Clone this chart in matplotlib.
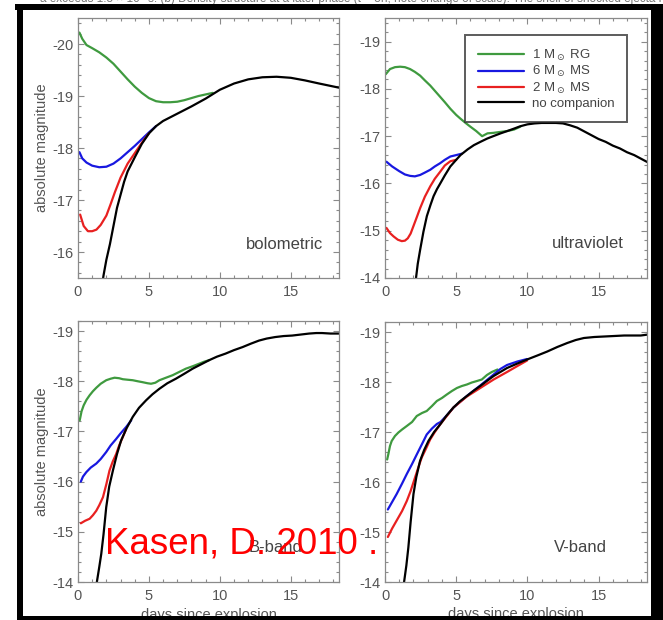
import matplotlib
matplotlib.use("Agg")
import matplotlib.pyplot as plt
from matplotlib.patches import Rectangle
from matplotlib.ticker import MultipleLocator

# ---------------- data ----------------
# bolometric
bol_rg_day = [0.1, 0.3, 0.6, 1.0, 1.5, 2.0, 2.5, 3.0, 3.5, 4.0, 4.5, 5.0, 5.5, 6.0, 6.5, 7.0, 7.5, 8.0, 8.5, 9.0, 9.5]
bol_rg_mag = [-20.22, -20.1, -19.98, -19.92, -19.84, -19.74, -19.62, -19.47, -19.32, -19.18, -19.06, -18.96, -18.9, -18.88, -18.88, -18.89, -18.92, -18.96, -19.0, -19.03, -19.06]
bol_ms6_day = [0.1, 0.3, 0.6, 1.0, 1.5, 2.0, 2.5, 3.0, 3.5, 4.0, 4.5, 5.0, 5.5]
bol_ms6_mag = [-17.92, -17.8, -17.72, -17.66, -17.63, -17.64, -17.7, -17.8, -17.92, -18.04, -18.17, -18.3, -18.42]
bol_ms2_day = [0.15, 0.4, 0.7, 1.0, 1.3, 1.6, 2.0, 2.3, 2.6, 3.0, 3.5, 4.0, 4.5, 5.0]
bol_ms2_mag = [-16.72, -16.5, -16.4, -16.4, -16.43, -16.52, -16.7, -16.92, -17.15, -17.43, -17.7, -17.9, -18.1, -18.28]
bol_nc_day = [1.6, 1.8, 2.0, 2.25, 2.5, 2.75, 3.0, 3.25, 3.5, 4.0, 4.5, 5.0, 5.5, 6.0, 7.0, 8.0, 9.0, 10.0, 11.0, 12.0, 13.0, 14.0, 15.0, 16.0, 17.0, 18.4]
bol_nc_mag = [-15.2, -15.55, -15.85, -16.15, -16.5, -16.85, -17.1, -17.35, -17.55, -17.82, -18.08, -18.28, -18.42, -18.52, -18.66, -18.8, -18.95, -19.12, -19.24, -19.32, -19.36, -19.37, -19.35, -19.3, -19.24, -19.16]

# ultraviolet
uv_rg_day = [0.05, 0.35, 0.7, 1.06, 1.4, 1.76, 2.1, 2.47, 2.8, 3.18, 3.5, 3.88, 4.2, 4.59, 5.0, 5.3, 5.7, 6.0, 6.4, 6.82, 7.2, 7.6, 8.1, 8.6, 9.06, 9.5]
uv_rg_mag = [-18.31, -18.42, -18.46, -18.47, -18.46, -18.42, -18.36, -18.28, -18.18, -18.07, -17.96, -17.83, -17.72, -17.58, -17.45, -17.37, -17.27, -17.2, -17.11, -17.0, -17.06, -17.07, -17.09, -17.11, -17.14, -17.2]
uv_ms6_day = [0.1, 0.5, 1.0, 1.4, 1.76, 2.1, 2.47, 2.8, 3.18, 3.5, 3.88, 4.2, 4.59, 5.0, 5.4]
uv_ms6_mag = [-16.46, -16.36, -16.26, -16.19, -16.16, -16.15, -16.18, -16.23, -16.29, -16.36, -16.43, -16.5, -16.57, -16.6, -16.63]
uv_ms2_day = [0.1, 0.35, 0.6, 0.9, 1.18, 1.4, 1.6, 1.8, 2.0, 2.2, 2.47, 2.8, 3.18, 3.5, 3.88, 4.2, 4.59, 5.0]
uv_ms2_mag = [-15.06, -14.95, -14.88, -14.81, -14.78, -14.79, -14.84, -14.94, -15.1, -15.26, -15.48, -15.72, -15.94, -16.1, -16.25, -16.38, -16.47, -16.5]
uv_nc_day = [2.1, 2.19, 2.3, 2.47, 2.7, 2.94, 3.2, 3.41, 3.65, 3.88, 4.2, 4.59, 5.0, 5.3, 5.8, 6.24, 6.7, 7.18, 7.6, 8.12, 8.6, 9.06, 9.5, 10.0, 10.5, 11.0, 11.5, 12.0, 12.5, 13.0, 13.5, 14.0, 14.5, 15.0, 15.5, 16.0, 16.5, 17.0, 17.5, 18.0, 18.5]
uv_nc_mag = [-13.8, -14.03, -14.3, -14.6, -14.98, -15.31, -15.55, -15.73, -15.88, -16.0, -16.17, -16.36, -16.5, -16.6, -16.72, -16.81, -16.88, -16.95, -17.0, -17.06, -17.11, -17.16, -17.21, -17.25, -17.27, -17.28, -17.28, -17.28, -17.27, -17.23, -17.18, -17.1, -17.02, -16.94, -16.88, -16.8, -16.74, -16.66, -16.6, -16.52, -16.44]

# B-band
b_rg_day = [0.12, 0.25, 0.4, 0.6, 0.82, 1.05, 1.29, 1.6, 1.99, 2.3, 2.58, 2.9, 3.16, 3.5, 3.86, 4.2, 4.57, 4.9, 5.15, 5.45, 5.74, 6.2, 6.67, 7.1, 7.6, 8.1, 8.55, 8.9, 9.25]
b_rg_mag = [-17.22, -17.4, -17.52, -17.63, -17.72, -17.8, -17.87, -17.95, -18.02, -18.05, -18.07, -18.06, -18.04, -18.03, -18.02, -18.0, -17.98, -17.96, -17.95, -17.97, -18.02, -18.07, -18.12, -18.18, -18.25, -18.3, -18.35, -18.39, -18.42]
b_ms6_day = [0.2, 0.35, 0.59, 0.9, 1.29, 1.6, 1.99, 2.3, 2.69, 3.0, 3.4, 3.75]
b_ms6_mag = [-16.0, -16.1, -16.19, -16.28, -16.36, -16.45, -16.59, -16.72, -16.85, -16.96, -17.09, -17.22]
b_ms2_day = [0.2, 0.5, 0.82, 1.05, 1.29, 1.5, 1.76, 2.0, 2.22, 2.45, 2.69, 2.9, 3.16, 3.4]
b_ms2_mag = [-15.17, -15.22, -15.26, -15.33, -15.42, -15.53, -15.69, -15.95, -16.22, -16.4, -16.55, -16.72, -16.89, -17.05]
b_nc_day = [1.2, 1.33, 1.5, 1.64, 1.8, 1.99, 2.2, 2.46, 2.75, 3.04, 3.4, 3.86, 4.3, 4.8, 5.25, 5.74, 6.3, 6.9, 7.5, 8.08, 8.7, 9.25, 9.8, 10.4, 11.0, 11.6, 12.2, 12.76, 13.3, 13.9, 14.5, 15.1, 15.7, 16.3, 16.8, 17.2, 17.8, 18.4]
b_nc_mag = [-13.6, -14.0, -14.3, -14.56, -14.95, -15.49, -15.9, -16.22, -16.55, -16.82, -17.05, -17.29, -17.47, -17.62, -17.74, -17.85, -17.96, -18.05, -18.15, -18.25, -18.34, -18.42, -18.49, -18.55, -18.62, -18.68, -18.75, -18.81, -18.85, -18.88, -18.9, -18.91, -18.93, -18.95, -18.96, -18.96, -18.95, -18.95]

# V-band
v_rg_day = [0.15, 0.23, 0.35, 0.47, 0.7, 0.94, 1.2, 1.53, 1.9, 2.23, 2.6, 2.93, 3.3, 3.64, 4.0, 4.34, 4.7, 5.05, 5.4, 5.75, 6.1, 6.46, 6.8, 7.16, 7.5, 7.9]
v_rg_mag = [-16.45, -16.55, -16.72, -16.82, -16.92, -16.99, -17.05, -17.12, -17.2, -17.32, -17.38, -17.42, -17.52, -17.62, -17.68, -17.75, -17.82, -17.88, -17.92, -17.95, -17.99, -18.02, -18.05, -18.14, -18.2, -18.25]
v_ms6_day = [0.2, 0.5, 0.82, 1.2, 1.53, 1.9, 2.23, 2.6, 2.93, 3.3, 3.64, 3.9, 4.3, 4.81, 5.75, 6.69, 7.63, 8.1, 8.57, 9.3, 9.98]
v_ms6_mag = [-15.45, -15.6, -15.76, -15.97, -16.16, -16.36, -16.55, -16.76, -16.95, -17.07, -17.16, -17.2, -17.32, -17.49, -17.72, -17.93, -18.15, -18.26, -18.34, -18.41, -18.46]
v_ms2_day = [0.2, 0.5, 0.82, 1.2, 1.53, 1.8, 2.11, 2.35, 2.58, 2.9, 3.17, 3.5, 3.87, 4.81, 5.75, 6.69, 7.63, 8.57, 9.3, 9.98]
v_ms2_mag = [-14.9, -15.07, -15.23, -15.42, -15.62, -15.82, -16.09, -16.3, -16.49, -16.68, -16.85, -17.0, -17.15, -17.49, -17.71, -17.88, -18.05, -18.2, -18.32, -18.43]
v_nc_day = [1.2, 1.34, 1.5, 1.64, 1.8, 2.0, 2.2, 2.46, 2.75, 3.05, 3.45, 3.87, 4.3, 4.81, 5.25, 5.75, 6.2, 6.69, 7.15, 7.63, 8.1, 8.57, 9.3, 9.98, 10.7, 11.4, 12.1, 12.8, 13.4, 13.97, 14.7, 15.4, 16.1, 16.8, 17.4, 17.96, 18.5]
v_nc_mag = [-13.6, -14.0, -14.33, -14.69, -15.2, -15.76, -16.1, -16.42, -16.64, -16.82, -17.0, -17.15, -17.32, -17.49, -17.61, -17.72, -17.82, -17.92, -18.02, -18.12, -18.2, -18.28, -18.37, -18.45, -18.53, -18.61, -18.7, -18.78, -18.84, -18.88, -18.9, -18.91, -18.92, -18.93, -18.93, -18.93, -18.95]

series_labels = ["1 M$_\\odot$ RG", "6 M$_\\odot$ MS", "2 M$_\\odot$ MS", "no companion"]
series_colors = ["#3f9a3f", "#1818e0", "#e82020", "#000000"]
panel_names = ["bolometric", "ultraviolet", "B-band", "V-band"]
y_tick_values_top_left = [-20, -19, -18, -17, -16]
y_tick_values_other = [-19, -18, -17, -16, -15, -14]
x_tick_values = [0, 5, 10, 15]

# ---------------- styling ----------------
plt.rcParams["font.family"] = ["Liberation Sans", "DejaVu Sans"]
plt.rcParams["mathtext.fontset"] = "dejavusans"
plt.rcParams["axes.unicode_minus"] = False

W, H = 663, 620
fig = plt.figure(figsize=(W / 100, H / 100), dpi=100)
fig.patch.set_facecolor("white")

GREY_TXT = "#555555"
GREY_AX = "#8a8a8a"


def fig_rect(l, t, r, b):
    return [l / W, 1 - b / H, (r - l) / W, (b - t) / H]


def style_axes(ax, yticks, ylim):
    ax.set_xlim(0, 18.4)
    ax.set_ylim(*ylim)
    ax.set_xticks(x_tick_values)
    ax.set_yticks(yticks)
    ax.xaxis.set_minor_locator(MultipleLocator(1))
    ax.yaxis.set_minor_locator(MultipleLocator(0.2))
    ax.tick_params(which="both", direction="in", top=True, right=True,
                   color=GREY_AX, width=0.8, labelcolor=GREY_TXT, labelsize=10.5)
    ax.tick_params(which="major", length=4.5)
    ax.tick_params(which="minor", length=2.2)
    ax.tick_params(axis="x", pad=5)
    ax.tick_params(axis="y", pad=3)
    for s in ax.spines.values():
        s.set_color(GREY_AX)
        s.set_linewidth(0.9)


def draw(ax, days, mags):
    handles = []
    for d, m, c, lab in zip(days, mags, series_colors, series_labels):
        h, = ax.plot(d, m, color=c, lw=1.6, label=lab, solid_capstyle="round")
        handles.append(h)
    return handles


ax_bol = fig.add_axes(fig_rect(78, 18, 339, 278))
ax_uv = fig.add_axes(fig_rect(385, 18, 647, 278))
ax_b = fig.add_axes(fig_rect(78, 321, 339, 582))
ax_v = fig.add_axes(fig_rect(385, 322, 647, 582))

handles = draw(ax_bol, [bol_rg_day, bol_ms6_day, bol_ms2_day, bol_nc_day],
               [bol_rg_mag, bol_ms6_mag, bol_ms2_mag, bol_nc_mag])
draw(ax_uv, [uv_rg_day, uv_ms6_day, uv_ms2_day, uv_nc_day],
     [uv_rg_mag, uv_ms6_mag, uv_ms2_mag, uv_nc_mag])
draw(ax_b, [b_rg_day, b_ms6_day, b_ms2_day, b_nc_day],
     [b_rg_mag, b_ms6_mag, b_ms2_mag, b_nc_mag])
draw(ax_v, [v_rg_day, v_ms6_day, v_ms2_day, v_nc_day],
     [v_rg_mag, v_ms6_mag, v_ms2_mag, v_nc_mag])

style_axes(ax_bol, y_tick_values_top_left, (-15.5, -20.5))
style_axes(ax_uv, y_tick_values_other, (-14.0, -19.5))
style_axes(ax_b, y_tick_values_other, (-14.0, -19.2))
style_axes(ax_v, y_tick_values_other, (-14.0, -19.2))

for ax in (ax_bol, ax_b):
    ax.set_ylabel("absolute magnitude", color=GREY_TXT, fontsize=10.5)
    ax.yaxis.set_label_coords(-0.11, 0.5)
for ax in (ax_b, ax_v):
    ax.set_xlabel("days since explosion", color=GREY_TXT, fontsize=10.5, va="top")
    ax.xaxis.set_label_coords(0.5, -0.098)

# panel names (pixel positions: right edge, baseline)
for name, (xr, yb) in zip(panel_names, [(323, 249), (624, 248), (303, 552), (607, 552)]):
    fig.text(xr / W, 1 - yb / H, name, ha="right", va="baseline",
             fontsize=12, color="#444444")

leg = ax_uv.legend(handles=handles, loc="upper right",
                   bbox_to_anchor=(627 / W, 1 - 35 / H), bbox_transform=fig.transFigure,
                   fontsize=9.5, frameon=True, fancybox=False, borderaxespad=0,
                   handlelength=3.5, handletextpad=0.6, labelspacing=0.12,
                   borderpad=0.95)
leg.get_frame().set_edgecolor("#333333")
leg.get_frame().set_linewidth(1.4)
for t in leg.get_texts():
    t.set_color("#444444")

# clipped caption line above the frame
fig.text(40 / W, 1 - 2 / H,
         "a exceeds 1.5 \u00d7 10\u2078 s. (b) Density structure at a later phase (t = 5h, note change of scale). "
         "The shell of shocked ejecta has expanded",
         fontsize=8.5, color="#777777", ha="left", va="baseline")

# black frame
for (l, t, r, b) in [(15, 4, 663, 10), (17, 4, 23, 620), (651, 4, 663, 620), (17, 616, 663, 620)]:
    fig.add_artist(Rectangle((l / W, 1 - b / H), (r - l) / W, (b - t) / H,
                             transform=fig.transFigure, color="black", lw=0, zorder=10))

# citation overlay
fig.text(105 / W, 1 - 553 / H, "Kasen, D. 2010 .", color="red", fontsize=26.5,
         ha="left", va="baseline", zorder=20)

fig.savefig("out.png", dpi=100)
